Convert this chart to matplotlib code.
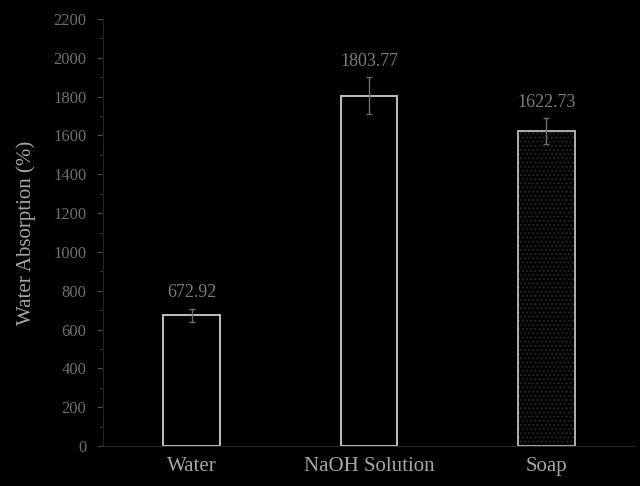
import numpy as np
import matplotlib.pyplot as plt
from matplotlib.ticker import MultipleLocator

categories = ["Water", "NaOH Solution", "Soap"]
values = [672.92, 1803.77, 1622.73]
errors = [35, 95, 65]
labels = ["672.92", "1803.77", "1622.73"]

plt.rcParams["font.family"] = ["Liberation Serif", "DejaVu Serif"]
plt.rcParams["hatch.linewidth"] = 1.0

fig = plt.figure(figsize=(6.4, 4.86), dpi=100, facecolor="black")
ax = fig.add_axes([0.161, 0.082, 0.831, 0.879], facecolor="black")

x = np.arange(len(categories))
# dim dotted fill for the soap bar, outline drawn on top
ax.bar(x[2], values[2], width=0.32, color="black", edgecolor="#262626",
       linewidth=0, hatch="....", zorder=2)
ax.bar(x, values, width=0.32, color="none", edgecolor="#bdbdbd",
       linewidth=1.3, zorder=2.5)
ax.bar(x[:2], values[:2], width=0.32, color="black", edgecolor="#bdbdbd",
       linewidth=1.3, zorder=1.5)
ax.errorbar(x, values, yerr=errors, fmt="none", ecolor="#6e6e6e",
            elinewidth=1.0, capsize=2, capthick=1.0, zorder=3)

for i in range(len(categories)):
    ax.text(x[i], values[i] + errors[i] + 40, labels[i], ha="center",
            va="bottom", fontsize=13, color="#7a7a7a")

ax.set_xlim(-0.5, 2.5)
ax.set_ylim(0, 2200)
ax.yaxis.set_major_locator(MultipleLocator(200))
ax.yaxis.set_minor_locator(MultipleLocator(100))
ax.set_xticks(x)
ax.set_xticklabels(categories, fontsize=15, color="#a6a6a6")
ax.tick_params(axis="x", length=0, pad=8)
ax.tick_params(axis="y", which="major", length=4, color="#4a4a4a",
               labelcolor="#6e6e6e", labelsize=12, pad=8)
ax.tick_params(axis="y", which="minor", length=2, color="#4a4a4a")
ax.set_ylabel("Water Absorption (%)", fontsize=15, color="#a6a6a6", labelpad=12)

for s in ["top", "right"]:
    ax.spines[s].set_visible(False)
ax.spines["left"].set_color("#222222")
ax.spines["bottom"].set_color("#262626")

fig.savefig("out.png", dpi=100, facecolor="black")
